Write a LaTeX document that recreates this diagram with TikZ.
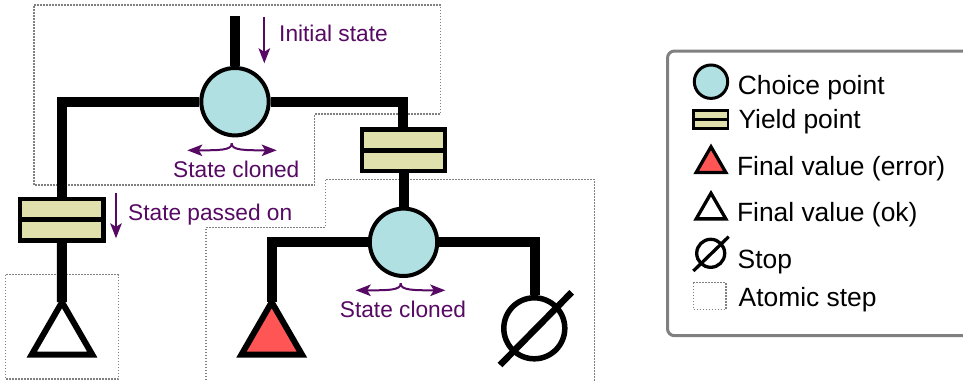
\documentclass[tikz,border=0pt]{standalone}
\usepackage{fontspec}
\setmainfont{Liberation Sans}
\usetikzlibrary{arrows.meta,shapes.geometric}
\definecolor{choicefill}{HTML}{B0E0E1}
\definecolor{yieldfill}{HTML}{E0E0AC}
\definecolor{errfill}{HTML}{FF5555}
\definecolor{notecol}{HTML}{570A63}
\definecolor{stepcol}{HTML}{808080}
\tikzset{
  wire/.style={line width=10pt,line join=miter},
  choice/.style={circle,draw,fill=choicefill,line width=4pt,minimum size=67.4pt,inner sep=0pt},
  yieldbox/.style={rectangle,draw,fill=yieldfill,line width=4.5pt,minimum width=83.2pt,minimum height=41.5pt,inner sep=0pt},
  yieldline/.style={line width=4.5pt},
  finalbig/.style={regular polygon,regular polygon sides=3,draw,line width=6pt,minimum size=69.8pt,inner sep=0pt},
  stopbig/.style={circle,draw,line width=5.5pt,minimum size=61pt,inner sep=0pt},
  slashbig/.style={line width=6.5pt},
  atomic/.style={draw=stepcol,line width=1.5pt,dash pattern=on 1.5pt off 1.5pt},
  note/.style={anchor=base west,inner sep=0pt,text=notecol,font=\fontsize{22.7}{27}\selectfont},
  noteline/.style={draw=notecol,line width=2pt,-{Stealth[length=15pt,width=11.5pt,inset=3.5pt]}},
  legendtext/.style={anchor=base west,inner sep=0pt,text=black,font=\fontsize{26.4}{31}\selectfont},
  lchoice/.style={circle,draw,fill=choicefill,line width=3pt,minimum size=33.4pt,inner sep=0pt},
  lyield/.style={rectangle,draw,fill=yieldfill,line width=2.7pt,minimum width=34.3pt,minimum height=18pt,inner sep=0pt},
  lfinal/.style={regular polygon,regular polygon sides=3,draw,line width=3.3pt,minimum size=34.2pt,inner sep=0pt},
  lstop/.style={circle,draw,line width=3.3pt,minimum size=28pt,inner sep=0pt},
}
\begin{document}
\begin{tikzpicture}[x=1pt,y=-1pt]
\useasboundingbox (0,0) rectangle (963,381);
\clip (0,0) rectangle (963,381);
\fill[white] (0,0) rectangle (963,381);
% atomic steps
\draw[atomic] (34,5) -- (440.3,5) -- (440.3,114) -- (314.7,114) -- (314.7,185) -- (34,185) -- cycle;
\draw[atomic] (206,383) -- (206,227.3) -- (325.3,227.3) -- (325.3,179.3) -- (594.3,179.3) -- (594.3,383);
\draw[atomic] (5.3,274.7) rectangle (118.3,379);
% nodes
\coordinate (start) at (235,16);
\coordinate (cornerL) at (62,101.7);
\coordinate (cornerR) at (403.2,101.7);
\coordinate (cornerA) at (271.7,242.3);
\coordinate (cornerB) at (535,242.3);
\node[choice] (c1) at (235,101.7) {};
\node[yieldbox] (y1) at (61.7,219.7) {};
\node[yieldbox] (y2) at (403.5,150.3) {};
\node[choice] (c2) at (403.5,242.3) {};
\node[finalbig,fill=white] (ok) at (62,337.1) {};
\node[finalbig,fill=errfill] (err) at (271.7,337.1) {};
\node[stopbig] (stop) at (534.3,328.3) {};
% connectors
\draw[wire] (start) -- (c1);
\draw[wire] (c1) -- (cornerL) -- (y1.north -| cornerL);
\draw[wire] (c1) -- (cornerR) -- (y2.north -| cornerR);
\draw[wire] (y2) -- (c2);
\draw[wire] (y1) -- ([yshift=-6pt]ok.corner 1);
\draw[wire] (c2) -- (cornerA) -- ([yshift=-6pt]err.corner 1);
\draw[wire] (c2) -- (cornerB) -- (cornerB |- stop.north);
\node[yieldbox] at (y1) {};
\node[yieldbox] at (y2) {};
\draw[yieldline] (y1.west) -- (y1.east);
\draw[yieldline] (y2.west) -- (y2.east);
\draw[slashbig] (500,365) -- (571.7,292.3);
% notes
\coordinate (a1s) at (264.3,16.7);
\coordinate (a1e) at (264.3,63.3);
\draw[noteline] (a1s) -- (a1e);
\node[note] (t1) at (279,41) {Initial state};
\coordinate (a2s) at (116,193.3);
\coordinate (a2e) at (116,238.3);
\draw[noteline] (a2s) -- (a2e);
\node[note] (t2) at (128,220) {State passed on};
\draw[noteline] (231.7,143.3) .. controls (232.5,150.5) and (218,150.3) .. (187.3,150.3);
\draw[noteline] (231.7,143.3) .. controls (231,150.5) and (246,150.3) .. (276.7,150.3);
\node[note] (t3) at (173,177.3) {State cloned};
\draw[noteline] (400.7,283.3) .. controls (401.5,290.5) and (387,290.3) .. (355.7,290.3);
\draw[noteline] (400.7,283.3) .. controls (400,290.5) and (415,290.3) .. (445.3,290.3);
\node[note] (t4) at (339.7,317.3) {State cloned};
% legend
\draw[draw=stepcol,line width=3pt,rounded corners=7pt] (990,51) -- (667.5,51) -- (667.5,335.7) -- (990,335.7);
\node[lchoice] (lc) at (711,81.7) {};
\node[legendtext] (lt1) at (737.7,94.3) {Choice point};
\node[lyield] (ly) at (710.8,119.6) {};
\draw[line width=2.7pt] (ly.west) -- (ly.east);
\node[legendtext] (lt2) at (738.3,128.3) {Yield point};
\node[lfinal,fill=errfill] (le) at (711,163.9) {};
\node[legendtext] (lt3) at (736.8,175) {Final value (error)};
\node[lfinal,fill=white] (lo) at (711,210.3) {};
\node[legendtext] (lt4) at (736.8,221.5) {Final value (ok)};
\node[lstop] (ls) at (710.7,253.3) {};
\draw[line width=3.3pt] (693.3,271) -- (728.7,236.7);
\node[legendtext] (lt5) at (737.5,268) {Stop};
\draw[atomic] (693.3,282.7) rectangle (726,309.3);
\node[legendtext] (lt6) at (738.5,306.5) {Atomic step};
\end{tikzpicture}
\end{document}
